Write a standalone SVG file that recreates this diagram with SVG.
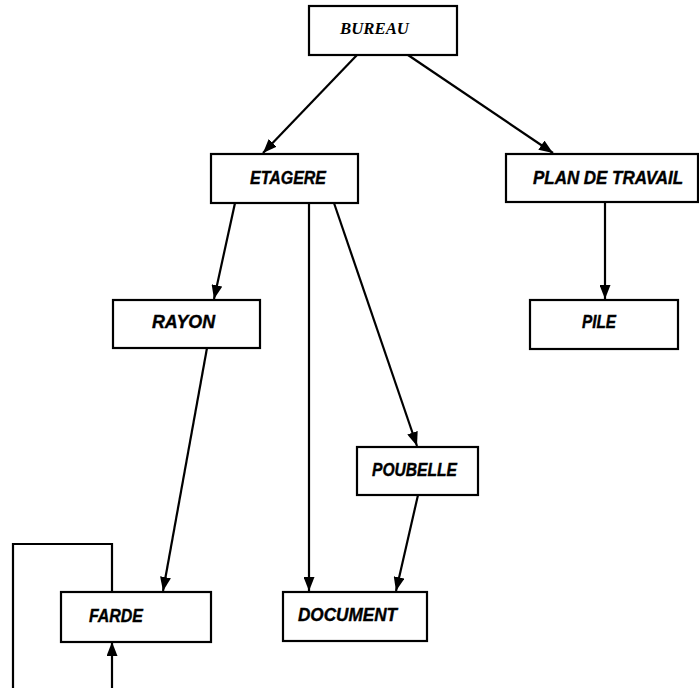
<svg xmlns="http://www.w3.org/2000/svg" width="699" height="688" viewBox="0 0 699 688">
  <style>
    .box { fill: #ffffff; stroke: #000000; stroke-width: 2.2; }
    .lbl { font-family: "Liberation Sans", Arial, sans-serif; font-weight: bold; font-style: italic; font-size: 17.5px; fill: #000000; stroke: #000000; stroke-width: 0.4; }
    .lbl-serif { font-family: "Liberation Serif", "Times New Roman", serif; font-weight: bold; font-style: italic; font-size: 17px; fill: #000000; }
    .edge { fill: none; stroke: #000000; stroke-width: 2.2; }
  </style>
  <defs>
    <marker id="arrow" viewBox="0 0 14 11" refX="14" refY="5.5" markerWidth="14" markerHeight="11" markerUnits="userSpaceOnUse" orient="auto">
      <path d="M0,0 L14,5.5 L0,11 Z" fill="#000000"/>
    </marker>
  </defs>
  <rect width="699" height="688" fill="#ffffff"/>

  <g id="connectors">
    <line class="edge" x1="357" y1="55" x2="263" y2="153" marker-end="url(#arrow)"/>
    <line class="edge" x1="408" y1="55" x2="553" y2="153" marker-end="url(#arrow)"/>
    <line class="edge" x1="235" y1="203" x2="214" y2="299" marker-end="url(#arrow)"/>
    <line class="edge" x1="309" y1="203" x2="309" y2="591" marker-end="url(#arrow)"/>
    <line class="edge" x1="334" y1="203" x2="417" y2="446" marker-end="url(#arrow)"/>
    <line class="edge" x1="605" y1="202" x2="605" y2="299" marker-end="url(#arrow)"/>
    <line class="edge" x1="207" y1="348" x2="163" y2="591" marker-end="url(#arrow)"/>
    <line class="edge" x1="418" y1="495" x2="396" y2="591" marker-end="url(#arrow)"/>
    <polyline class="edge" points="13,688 13,544 112,544 112,592"/>
    <line class="edge" x1="112" y1="688" x2="112" y2="642" marker-end="url(#arrow)"/>
  </g>

  <g id="bureau">
    <rect class="box" x="309" y="6" width="148" height="49"/>
    <text class="lbl-serif" x="340" y="34" textLength="69" lengthAdjust="spacingAndGlyphs">BUREAU</text>
  </g>
  <g id="etagere">
    <rect class="box" x="211" y="154" width="147" height="49"/>
    <text class="lbl" x="250" y="184" textLength="76" lengthAdjust="spacingAndGlyphs">ETAGERE</text>
  </g>
  <g id="plan-de-travail">
    <rect class="box" x="506" y="154" width="192" height="48"/>
    <text class="lbl" x="533" y="184" textLength="150" lengthAdjust="spacingAndGlyphs">PLAN DE TRAVAIL</text>
  </g>
  <g id="rayon">
    <rect class="box" x="113" y="300" width="147" height="48"/>
    <text class="lbl" x="152" y="328" textLength="63" lengthAdjust="spacingAndGlyphs">RAYON</text>
  </g>
  <g id="pile">
    <rect class="box" x="530" y="300" width="148" height="49"/>
    <text class="lbl" x="582" y="328" textLength="34" lengthAdjust="spacingAndGlyphs">PILE</text>
  </g>
  <g id="poubelle">
    <rect class="box" x="357" y="447" width="121" height="48"/>
    <text class="lbl" x="372" y="476" textLength="85" lengthAdjust="spacingAndGlyphs">POUBELLE</text>
  </g>
  <g id="farde">
    <rect class="box" x="61" y="592" width="150" height="50"/>
    <text class="lbl" x="89" y="622" textLength="54" lengthAdjust="spacingAndGlyphs">FARDE</text>
  </g>
  <g id="document">
    <rect class="box" x="283" y="592" width="144" height="49"/>
    <text class="lbl" x="298" y="621" textLength="99" lengthAdjust="spacingAndGlyphs">DOCUMENT</text>
  </g>
</svg>
